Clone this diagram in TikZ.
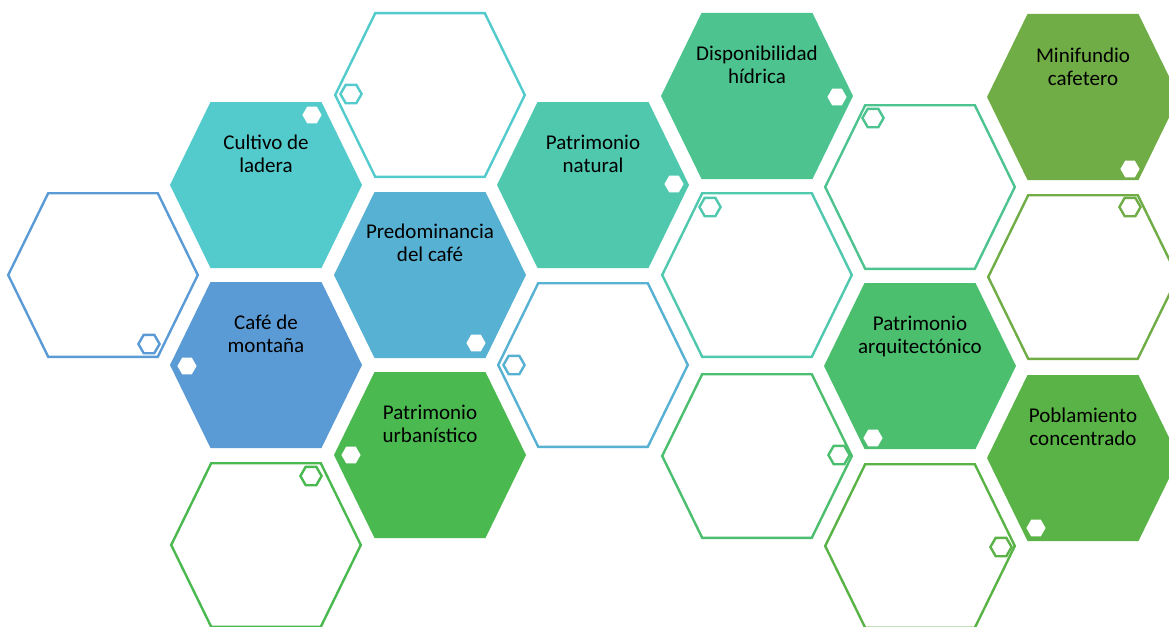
\documentclass[tikz,border=0pt]{standalone}
\usepackage{fontspec}
\setmainfont{Carlito}
\definecolor{cCyan}{HTML}{53CACB}
\definecolor{cBlue}{HTML}{5B9BD5}
\definecolor{cLBlue}{HTML}{57B1D3}
\definecolor{cTeal}{HTML}{4FC8AE}
\definecolor{cSea}{HTML}{4DC490}
\definecolor{cGreen}{HTML}{4AB94F}
\definecolor{cMGreen}{HTML}{4BBF6E}
\definecolor{cOlive}{HTML}{70AD47}
\definecolor{cLeaf}{HTML}{5AB346}
\tikzset{
  lbl/.style={align=center,text=black,inner sep=0pt,font=\fontsize{21}{23}\selectfont},
  hexline/.style={draw=#1,line width=2.4pt,line join=miter},
}
% big hexagon path centred at (#1,#2), half width #3, half height #4, half top #5
\newcommand\hexpath[5]{(#1+#3,#2) -- (#1+#5,#2+#4) -- (#1-#5,#2+#4) -- (#1-#3,#2) -- (#1-#5,#2-#4) -- (#1+#5,#2-#4) -- cycle}
% filled hexagon: x y colour dx dy (small white hexagon offset)
\newcommand\hexFill[5]{%
  \fill[#3] \hexpath{#1}{#2}{96}{83}{55.5};
  \fill[white] \hexpath{#1+#4}{#2+#5}{9.6}{8.3}{4.8};
}
% outlined hexagon: x y colour dx dy
\newcommand\hexOut[5]{%
  \draw[hexline=#3] \hexpath{#1}{#2}{94.8}{81.8}{54.8};
  \draw[hexline=#3,fill=white] \hexpath{#1+#4}{#2+#5}{10.6}{9.2}{5.3};
}
\begin{document}
\begin{tikzpicture}[x=1pt,y=-1pt]
\useasboundingbox (0,0) rectangle (1169,626);
\clip (0,0) rectangle (1169,626);
% column 1
\hexOut{103}{275}{cBlue}{46}{69}
% column 2
\hexFill{266}{185}{cCyan}{46}{-70}
\hexFill{266}{365}{cBlue}{-79}{1}
\hexOut{266}{545}{cGreen}{45}{-69}
% column 3
\hexOut{430}{95}{cCyan}{-79}{-1}
\hexFill{430}{275}{cLBlue}{46}{68}
\hexFill{430}{455}{cGreen}{-79}{0}
% column 4
\hexFill{593}{185}{cTeal}{81}{-1}
\hexOut{593}{365}{cLBlue}{-79}{0}
% column 5
\hexFill{757}{96}{cSea}{80}{1}
\hexOut{757}{275}{cTeal}{-47}{-68}
\hexOut{757}{456}{cMGreen}{82}{-1}
% column 6
\hexOut{920}{187}{cSea}{-47}{-69}
\hexFill{920}{366}{cMGreen}{-47}{72}
\hexOut{920}{546}{cLeaf}{81}{1}
% column 7
\hexFill{1083}{97}{cOlive}{47}{72}
\hexOut{1083}{277}{cOlive}{47}{-70}
\hexFill{1083}{458}{cLeaf}{-47}{70}
% labels
\node[lbl] (cultivo) at (266,154) {Cultivo de\\ladera};
\node[lbl] (cafe) at (266,334) {Café de\\montaña};
\node[lbl] (predom) at (430,243) {Predominancia\\del café};
\node[lbl] (urban) at (430,424) {Patrimonio\\urbanístico};
\node[lbl] (natural) at (593,154) {Patrimonio\\natural};
\node[lbl] (hidrica) at (757,65) {Disponibilidad\\hídrica};
\node[lbl] (arq) at (920,336) {Patrimonio\\arquitectónico};
\node[lbl] (minif) at (1083,67) {Minifundio\\cafetero};
\node[lbl] (pobl) at (1083,427) {Poblamiento\\concentrado};
\end{tikzpicture}
\end{document}
